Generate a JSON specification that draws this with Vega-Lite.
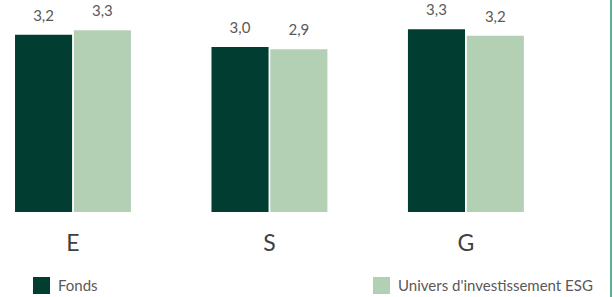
{
  "$schema": "https://vega.github.io/schema/vega-lite/v6.json",
  "autosize": {"type": "none"},
  "width": 611,
  "height": 212,
  "padding": {"left": 0, "top": 0, "right": 5, "bottom": 85},
  "background": "white",
  "config": {
    "font": "Lato",
    "view": {"stroke": null},
    "locale": {"number": {"decimal": ",", "thousands": " ", "grouping": [3], "currency": ["", " €"]}}
  },
  "data": {
    "values": [
      {"pilier": "E", "serie": "Fonds", "score": 3.206},
      {"pilier": "E", "serie": "Univers d'investissement ESG", "score": 3.286},
      {"pilier": "S", "serie": "Fonds", "score": 2.984},
      {"pilier": "S", "serie": "Univers d'investissement ESG", "score": 2.942},
      {"pilier": "G", "serie": "Fonds", "score": 3.304},
      {"pilier": "G", "serie": "Univers d'investissement ESG", "score": 3.188}
    ]
  },
  "layer": [
    {
      "encoding": {
        "x": {
          "field": "pilier", "type": "nominal", "sort": ["E", "S", "G"],
          "scale": {"paddingInner": 0.41, "paddingOuter": 0.26, "align": 0.147},
          "axis": {"title": null, "domain": false, "ticks": false, "labelAngle": 0, "labelFontSize": 23, "labelColor": "#404040", "labelPadding": 20, "labelFont": "Lato"}
        },
        "xOffset": {
          "field": "serie", "type": "nominal", "sort": ["Fonds", "Univers d'investissement ESG"],
          "scale": {"paddingInner": 0.03}
        },
        "y": {
          "field": "score", "type": "quantitative",
          "scale": {"domain": [0, 3.834], "nice": false, "zero": true},
          "axis": null
        }
      },
      "layer": [
        {
          "mark": {"type": "bar"},
          "encoding": {
            "color": {
              "field": "serie", "type": "nominal",
              "sort": ["Fonds", "Univers d'investissement ESG"],
              "scale": {"domain": ["Fonds", "Univers d'investissement ESG"], "range": ["#013d31", "#b3d0b5"]},
              "legend": {
                "title": null, "orient": "none", "legendX": 33, "legendY": 277,
                "direction": "horizontal", "columns": 2, "columnPadding": 275,
                "symbolType": "square", "symbolSize": 289, "symbolStrokeWidth": 0,
                "labelFontSize": 15, "labelColor": "#595959", "labelOffset": 8, "labelFont": "Lato", "labelLimit": 400
              }
            }
          }
        },
        {
          "mark": {"type": "text", "baseline": "bottom", "dy": -11, "fontSize": 15, "color": "#595959", "font": "Lato"},
          "encoding": {
            "text": {"field": "score", "type": "quantitative", "format": ".1f"}
          }
        }
      ]
    },
    {
      "mark": {"type": "rule", "color": "#5fae92", "strokeWidth": 2},
      "encoding": {
        "x": {"value": {"expr": "width"}},
        "y": {"value": 0},
        "y2": {"value": {"expr": "height + 85"}}
      }
    }
  ]
}
